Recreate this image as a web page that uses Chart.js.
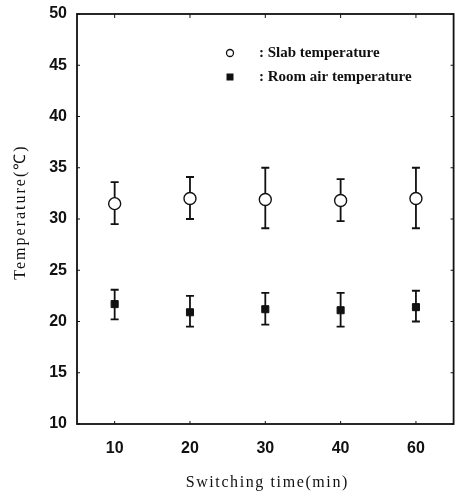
<!DOCTYPE html>
<html><head><meta charset="utf-8">
<script src="https://cdn.jsdelivr.net/npm/chart.js@4.4.1/dist/chart.umd.min.js"></script>
<style>html,body{margin:0;padding:0;background:#fff}#wrap{width:461px;height:498px}</style>
</head><body><div id="wrap"><canvas id="c" width="461" height="498"></canvas></div>
<script>
const categories = ['10','20','30','40','60'];
const slabMean = [31.5, 32.0, 31.9, 31.8, 32.0];
const slabLow  = [29.5, 30.0, 29.1, 29.8, 29.1];
const slabHigh = [33.6, 34.1, 35.0, 33.9, 35.0];
const roomMean = [21.7, 20.9, 21.2, 21.1, 21.4];
const roomLow  = [20.2, 19.5, 19.7, 19.5, 20.0];
const roomHigh = [23.1, 22.5, 22.8, 22.8, 23.0];
const yTicks = [10,15,20,25,30,35,40,45,50];
const legendLabels = [': Slab temperature', ': Room air temperature'];
const xTitle = 'Switching time(min)';
const yTitle = 'Temperature(℃)';

const errorBars = {
  id:'errorBars',
  beforeDatasetsDraw(chart){
    const ctx = chart.ctx, x = chart.scales.x, y = chart.scales.y;
    const sets = [[slabLow, slabHigh],[roomLow, roomHigh]];
    ctx.save();
    ctx.strokeStyle = '#111'; ctx.lineWidth = 1.8;
    sets.forEach(([lo,hi])=>{
      lo.forEach((v,i)=>{
        const px = x.getPixelForValue(i);
        const y1 = y.getPixelForValue(v), y2 = y.getPixelForValue(hi[i]);
        ctx.beginPath();
        ctx.moveTo(px,y1); ctx.lineTo(px,y2);
        ctx.moveTo(px-4,y1); ctx.lineTo(px+4,y1);
        ctx.moveTo(px-4,y2); ctx.lineTo(px+4,y2);
        ctx.stroke();
      });
    });
    ctx.restore();
  },
  afterDraw(chart){
    const ctx = chart.ctx, a = chart.chartArea, x = chart.scales.x, y = chart.scales.y;
    ctx.save();
    ctx.strokeStyle = '#111'; ctx.lineWidth = 1.8;
    ctx.strokeRect(a.left, a.top, a.right-a.left, a.bottom-a.top);
    ctx.lineWidth = 1;
    ctx.beginPath();
    yTicks.forEach(v=>{
      const py = y.getPixelForValue(v);
      ctx.moveTo(a.left, py); ctx.lineTo(a.left+3, py);
      ctx.moveTo(a.right, py); ctx.lineTo(a.right-3, py);
    });
    categories.forEach((c,i)=>{
      const px = x.getPixelForValue(i);
      ctx.moveTo(px, a.top); ctx.lineTo(px, a.top+4);
      ctx.moveTo(px, a.bottom); ctx.lineTo(px, a.bottom-3);
    });
    ctx.stroke();
    // legend
    const lx = a.left + 153, ly1 = a.top + 39, ly2 = a.top + 63;
    ctx.fillStyle = '#fff'; ctx.lineWidth = 1.3;
    ctx.beginPath(); ctx.arc(lx, ly1, 3.5, 0, Math.PI*2); ctx.fill(); ctx.stroke();
    ctx.fillStyle = '#111';
    ctx.fillRect(lx-3.5, ly2-3.5, 7, 7);
    ctx.font = 'bold 15px "Liberation Serif", serif';
    ctx.textBaseline = 'middle'; ctx.textAlign = 'left';
    ctx.fillText(legendLabels[0], lx+29, ly1);
    ctx.fillText(legendLabels[1], lx+29, ly2);
    // axis titles
    ctx.font = '16px "Liberation Serif", serif';
    ctx.letterSpacing = '1.6px';
    ctx.textAlign = 'center';
    ctx.fillText(xTitle, (a.left+a.right)/2 + 2, 483);
    ctx.translate(21, 212);
    ctx.rotate(-Math.PI/2);
    ctx.letterSpacing = '2px';
    ctx.fillText(yTitle, 0, 0);
    ctx.restore();
  }
};

new Chart(document.getElementById('c'), {
  type:'line',
  data:{
    labels: categories,
    datasets:[
      {label:'Slab temperature', data: slabMean, showLine:false, pointStyle:'circle', pointRadius:6,
       pointBackgroundColor:'#fff', pointBorderColor:'#111', pointBorderWidth:1.4},
      {label:'Room air temperature', data: roomMean, showLine:false, pointStyle:'rect', pointRadius:5,
       pointBackgroundColor:'#111', pointBorderColor:'#111', pointBorderWidth:1}
    ]
  },
  options:{
    responsive:false, animation:false, devicePixelRatio:1,
    layout:{padding:{top:14,right:5,left:0,bottom:0}},
    plugins:{legend:{display:false}, tooltip:{enabled:false}},
    scales:{
      x:{
        type:'category', offset:true,
        grid:{display:false, drawTicks:false},
        border:{display:false},
        ticks:{color:'#111', padding:15, font:{family:'"Liberation Sans", Arial, sans-serif', size:16, weight:'bold'}},
        afterFit(s){ s.height = 74; s.paddingLeft = 0; s.paddingRight = 0; }
      },
      y:{
        min:10, max:50,
        grid:{display:false, drawTicks:false},
        border:{display:false},
        ticks:{stepSize:5, color:'#111', padding:10, font:{family:'"Liberation Sans", Arial, sans-serif', size:16, weight:'bold'}},
        afterFit(s){ s.width = 77; s.paddingTop = 0; s.paddingBottom = 0; }
      }
    }
  },
  plugins:[errorBars]
});
</script></body></html>
